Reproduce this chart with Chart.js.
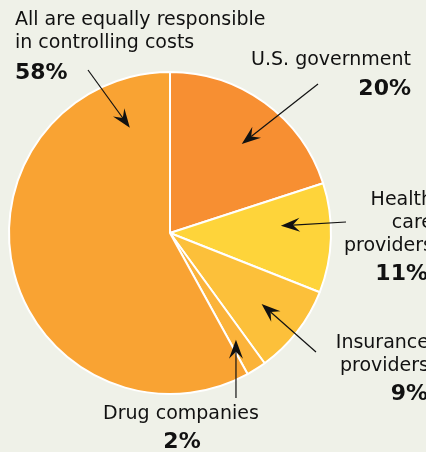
<!DOCTYPE html>
<html lang="en">
<head>
    <meta charset="UTF-8">
    <title>Who is responsible for controlling costs</title>
    <script src="https://cdn.jsdelivr.net/npm/chart.js"></script>
    <style>
        html, body {
            margin: 0;
            padding: 0;
            background: #eff1e8;
        }
        .chart-box {
            position: relative;
            width: 426px;
            height: 452px;
        }
    </style>
</head>
<body>
    <div class="chart-box">
        <canvas id="costChart"></canvas>
    </div>

    <script>
        // data, clockwise from 12 o'clock
        const categories = ['U.S. government', 'Health care providers', 'Insurance providers', 'Drug companies', 'All are equally responsible in controlling costs'];
        const shares = [20, 11, 9, 2, 58];
        const sliceColors = ['#f78f32', '#fed43a', '#fcc03a', '#fbb33a', '#f9a333'];

        // callout text lines, percent label, and where each arrow starts / points into its slice
        const callouts = [
            { lines: ['U.S. government'], align: 'right', x: 411, y: 60, pctY: 89, tail: [318, 84], t: 0.54, rf: 0.71 },
            { lines: ['Health', 'care', 'providers'], align: 'right', x: 433, y: 200, pctY: 274, pctX: 428, tail: [346, 222], t: 0.36, rf: 0.69 },
            { lines: ['Insurance', 'providers'], align: 'right', x: 429, y: 343, pctY: 394, pctX: 428, tail: [316, 352], t: 0.5, rf: 0.72 },
            { lines: ['Drug companies'], align: 'center', x: 181, y: 414, pctY: 442, pctX: 182, tail: [236, 398], t: 0.6, rf: 0.78 },
            { lines: ['All are equally responsible', 'in controlling costs'], align: 'left', x: 15, y: 20, pctY: 73, tail: [88, 70], t: 0.9, rf: 0.70 }
        ];

        function drawArrow(ctx, x0, y0, x1, y1) {
            const ang = Math.atan2(y1 - y0, x1 - x0);
            const len = 19, half = 7, notch = 12;
            const bx = x1 - len * Math.cos(ang), by = y1 - len * Math.sin(ang);
            const nx = x1 - notch * Math.cos(ang), ny = y1 - notch * Math.sin(ang);
            ctx.beginPath();
            ctx.moveTo(x0, y0);
            ctx.lineTo(nx, ny);
            ctx.strokeStyle = '#111';
            ctx.lineWidth = 1.2;
            ctx.stroke();
            ctx.beginPath();
            ctx.moveTo(x1, y1);
            ctx.lineTo(bx - half * Math.sin(ang), by + half * Math.cos(ang));
            ctx.lineTo(nx, ny);
            ctx.lineTo(bx + half * Math.sin(ang), by - half * Math.cos(ang));
            ctx.closePath();
            ctx.fillStyle = '#111';
            ctx.fill();
        }

        const calloutPlugin = {
            id: 'callouts',
            afterDraw(chart) {
                const ctx = chart.ctx;
                const arcs = chart.getDatasetMeta(0).data;
                ctx.save();
                callouts.forEach((c, i) => {
                    ctx.fillStyle = '#111';
                    ctx.textAlign = c.align;
                    ctx.textBaseline = 'middle';
                    ctx.font = '19px "DejaVu Sans"';
                    c.lines.forEach((line, k) => {
                        ctx.fillText(line, c.x, c.y + k * 23);
                    });
                    ctx.font = 'bold 22px "DejaVu Sans"';
                    ctx.fillText(shares[i] + '%', c.pctX !== undefined ? c.pctX : c.x, c.pctY);

                    const a = arcs[i];
                    const p = a.getProps(['x', 'y', 'startAngle', 'endAngle', 'outerRadius'], true);
                    const ang = p.startAngle + c.t * (p.endAngle - p.startAngle);
                    const r = p.outerRadius * c.rf;
                    drawArrow(ctx, c.tail[0], c.tail[1], p.x + r * Math.cos(ang), p.y + r * Math.sin(ang));
                });
                ctx.restore();
            }
        };

        new Chart(document.getElementById('costChart'), {
            type: 'pie',
            data: {
                labels: categories,
                datasets: [{
                    data: shares,
                    backgroundColor: sliceColors,
                    borderColor: '#ffffff',
                    borderWidth: 2
                }]
            },
            options: {
                responsive: true,
                maintainAspectRatio: false,
                animation: false,
                layout: {
                    padding: { left: 8, top: 71, right: 94, bottom: 57 }
                },
                plugins: {
                    legend: { display: false },
                    tooltip: { enabled: false }
                }
            },
            plugins: [calloutPlugin]
        });
    </script>
</body>
</html>
